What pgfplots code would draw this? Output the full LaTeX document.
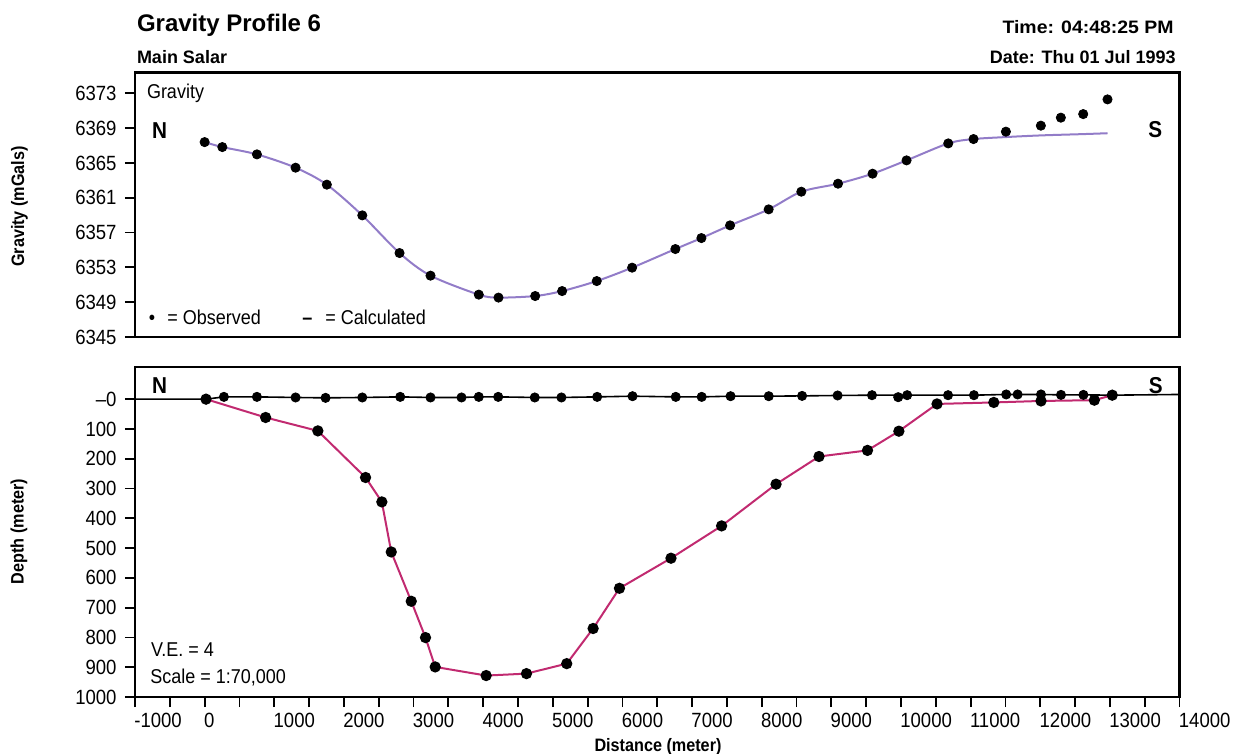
\documentclass[border=0pt]{standalone}
\usepackage{pgfplots}
\pgfplotsset{compat=1.18}
\usepackage{pgfplotstable}
\usepackage{fontspec}
\setmainfont{Liberation Sans}
\newfontfamily\cond{Liberation Sans}[FakeStretch=0.9]
\newfontfamily\widef{Liberation Sans}[FakeStretch=1.08]
\definecolor{gravline}{RGB}{146,124,200}
\definecolor{depthline}{RGB}{193,42,112}

\pgfplotstableread{
x d
20 0
876 61.5
1626 106.5
2311 263
2545 345
2680 513
2967 678.5
3172 800.5
3311 899
4043 928
4622 921.5
5200 888
5579 770
5957 635
6697 534
7424 425.5
8206 285.5
8823 192.5
9519 172
9970 107.5
10518 16
11333 11
12011 6
12777 3.4
13034 -13.4
}\basement

\pgfplotstableread{
x d
277 -7.7
751 -7.7
1306 -5.7
1737 -4.4
2264 -5.7
2809 -7.7
3244 -5.7
3689 -5.7
3937 -7.7
4216 -7.7
4741 -5.7
5124 -5.7
5637 -7.7
6145 -10
6766 -7.7
7138 -7.7
7553 -10
8101 -10
8580 -11
9090 -12.4
9584 -13.4
9960 -6.7
10089 -13.4
10676 -13.4
11048 -13.4
11511 -15.8
11675 -15.8
12011 -15.8
12298 -14.4
12620 -14.4
13034 -13.4
}\surfacepts

\pgfplotstableread{
x d
-1000 0
20 0
277 -7.7
751 -7.7
1306 -5.7
1737 -4.4
2264 -5.7
2809 -7.7
3244 -5.7
3689 -5.7
3937 -7.7
4216 -7.7
4741 -5.7
5124 -5.7
5637 -7.7
6145 -10
6766 -7.7
7138 -7.7
7553 -10
8101 -10
8580 -11
9090 -12.4
9584 -13.4
10089 -13.4
10676 -13.4
11048 -13.4
11511 -15.8
11675 -15.8
12011 -15.8
12298 -14.4
12620 -14.4
13034 -13.4
14000 -15.8
}\surfaceline

\begin{document}
\begin{tikzpicture}
\useasboundingbox (0,0) rectangle (618pt,-377pt);
\pgfplotsset{
  myaxis/.style={
    scale only axis, width=522.25pt,
    xmin=-1000, xmax=14000,
    scaled ticks=false,
    tick align=outside, xtick pos=left, ytick pos=left,
    axis line style={line width=1.1pt},
    tick style={line width=0.9pt, black},
    major tick length=5pt, minor tick length=5pt,
    ticklabel style={font=\cond\fontsize{10.3}{12}\selectfont},
    yticklabel style={xshift=-0.7pt},
    clip=true,
  }
}
% ---------- top panel ----------
\begin{axis}[myaxis, at={(67.5pt,-168.5pt)}, anchor=south west,
  height=132.25pt, ymin=6345, ymax=6375.4,
  xtick=\empty,
  ytick={6345,6349,6353,6357,6361,6365,6369,6373},
  yticklabels={6345,6349,6353,6357,6361,6365,6369,6373}]
\addplot[color=gravline, line width=1pt, smooth, tension=0.5] coordinates {
(0,6367.40)(254,6366.83)(751,6365.99)(1306,6364.46)(1755,6362.51)(2264,6358.98)
(2799,6354.65)(3244,6352.05)(3937,6349.87)(4220,6349.53)(4747,6349.71)(5134,6350.28)
(5631,6351.43)(6139,6352.97)(6760,6355.11)(7134,6356.37)(7546,6357.83)(8100,6359.67)
(8569,6361.70)(9096,6362.62)(9592,6363.77)(10080,6365.30)(10679,6367.25)(11042,6367.75)
(11507,6367.98)(12009,6368.17)(12617,6368.32)(12966,6368.42)};
\addplot[only marks, mark=*, mark size=2.3pt, black] coordinates {
(0,6367.40)(254,6366.83)(751,6365.99)(1306,6364.46)(1755,6362.51)(2264,6358.98)
(2799,6354.65)(3244,6352.05)(3937,6349.87)(4220,6349.53)(4747,6349.71)(5134,6350.28)
(5631,6351.43)(6139,6352.97)(6760,6355.11)(7134,6356.37)(7546,6357.83)(8100,6359.67)
(8569,6361.70)(9096,6362.62)(9592,6363.77)(10080,6365.30)(10679,6367.25)(11042,6367.75)
(11507,6368.60)(12009,6369.29)(12296,6370.21)(12617,6370.62)(12966,6372.31)};
\end{axis}
% ---------- bottom panel ----------
\begin{axis}[myaxis, at={(67.5pt,-348.5pt)}, anchor=south west,
  height=165pt, ymin=-1000, ymax=108,
  ytick={-1000,-900,-800,-700,-600,-500,-400,-300,-200,-100,0},
  yticklabels={1000,900,800,700,600,500,400,300,200,100,{–0}},
  xtick={-1000,0,1000,2000,3000,4000,5000,6000,7000,8000,9000,10000,11000,12000,13000,14000},
  xticklabels={-1000,0,1000,2000,3000,4000,5000,6000,7000,8000,9000,10000,11000,12000,13000,14000},
  minor xtick={-500,500,1500,2500,3500,4500,5500,6500,7500,8500,9500,10500,11500,12500,13500},
  xticklabel style={anchor=north west, inner sep=3pt, xshift=-3.5pt}]
\addplot[black, line width=0.8pt] table[x=x, y expr=-\thisrow{d}] {\surfaceline};
\addplot[color=depthline, line width=1pt, mark=*, mark size=2.3pt,
  mark options={black, fill=black}] table[x=x, y expr=-\thisrow{d}] {\basement};
\addplot[only marks, mark=*, mark size=2.3pt, black] table[x=x, y expr=-\thisrow{d}] {\surfacepts};
\end{axis}
% ---------- texts ----------
\node[anchor=base west, inner sep=0, font=\bfseries\fontsize{12}{14}\selectfont] at (68.3pt,-15.85pt) {Gravity Profile 6};
\node[anchor=base west, inner sep=0, font=\bfseries\fontsize{9}{11}\selectfont] at (68.3pt,-31.65pt) {Main Salar};
\node[anchor=base east, inner sep=0, font=\widef\bfseries\fontsize{9}{11}\selectfont] at (587pt,-16.7pt) {Time: 04:48:25 PM};
\node[anchor=base east, inner sep=0, font=\bfseries\fontsize{9}{11}\selectfont] at (588pt,-31.7pt) {Date: Thu 01 Jul 1993};
\node[rotate=90, inner sep=0, font=\cond\bfseries\fontsize{9}{11}\selectfont] at (9.75pt,-103.25pt) {Gravity (mGals)};
\node[rotate=90, inner sep=0, font=\cond\bfseries\fontsize{9}{11}\selectfont] at (9.5pt,-265.75pt) {Depth (meter)};
\node[anchor=base, inner sep=0, font=\cond\bfseries\fontsize{9}{11}\selectfont] at (329pt,-375.5pt) {Distance (meter)};
\node[anchor=base west, inner sep=0, font=\cond\fontsize{10}{12}\selectfont] at (73.3pt,-49.5pt) {Gravity};
\node[anchor=base west, inner sep=0, font=\cond\bfseries\fontsize{11.5}{13}\selectfont] at (75.8pt,-69.2pt) {N};
\node[anchor=base west, inner sep=0, font=\cond\bfseries\fontsize{11.5}{13}\selectfont] at (574pt,-69pt) {S};
\node[anchor=base, inner sep=0, font=\cond\fontsize{10}{12}\selectfont] at (76pt,-162pt) {•};
\node[anchor=base west, inner sep=0, font=\cond\fontsize{10}{12}\selectfont] at (83.5pt,-162pt) {= Observed};
\node[anchor=base west, inner sep=0, font=\cond\bfseries\fontsize{10}{12}\selectfont] at (151pt,-162pt) {–};
\node[anchor=base west, inner sep=0, font=\cond\fontsize{10}{12}\selectfont] at (162.5pt,-162pt) {= Calculated};
\node[anchor=base west, inner sep=0, font=\cond\bfseries\fontsize{11.5}{13}\selectfont] at (75.8pt,-196.7pt) {N};
\node[anchor=base west, inner sep=0, font=\cond\bfseries\fontsize{11.5}{13}\selectfont] at (574.2pt,-196.7pt) {S};
\node[anchor=base west, inner sep=0, font=\cond\fontsize{10}{12}\selectfont] at (75.3pt,-328.3pt) {V.E. = 4};
\node[anchor=base west, inner sep=0, font=\cond\fontsize{10}{12}\selectfont] at (75pt,-341.7pt) {Scale = 1:70,000};
\end{tikzpicture}
\end{document}
